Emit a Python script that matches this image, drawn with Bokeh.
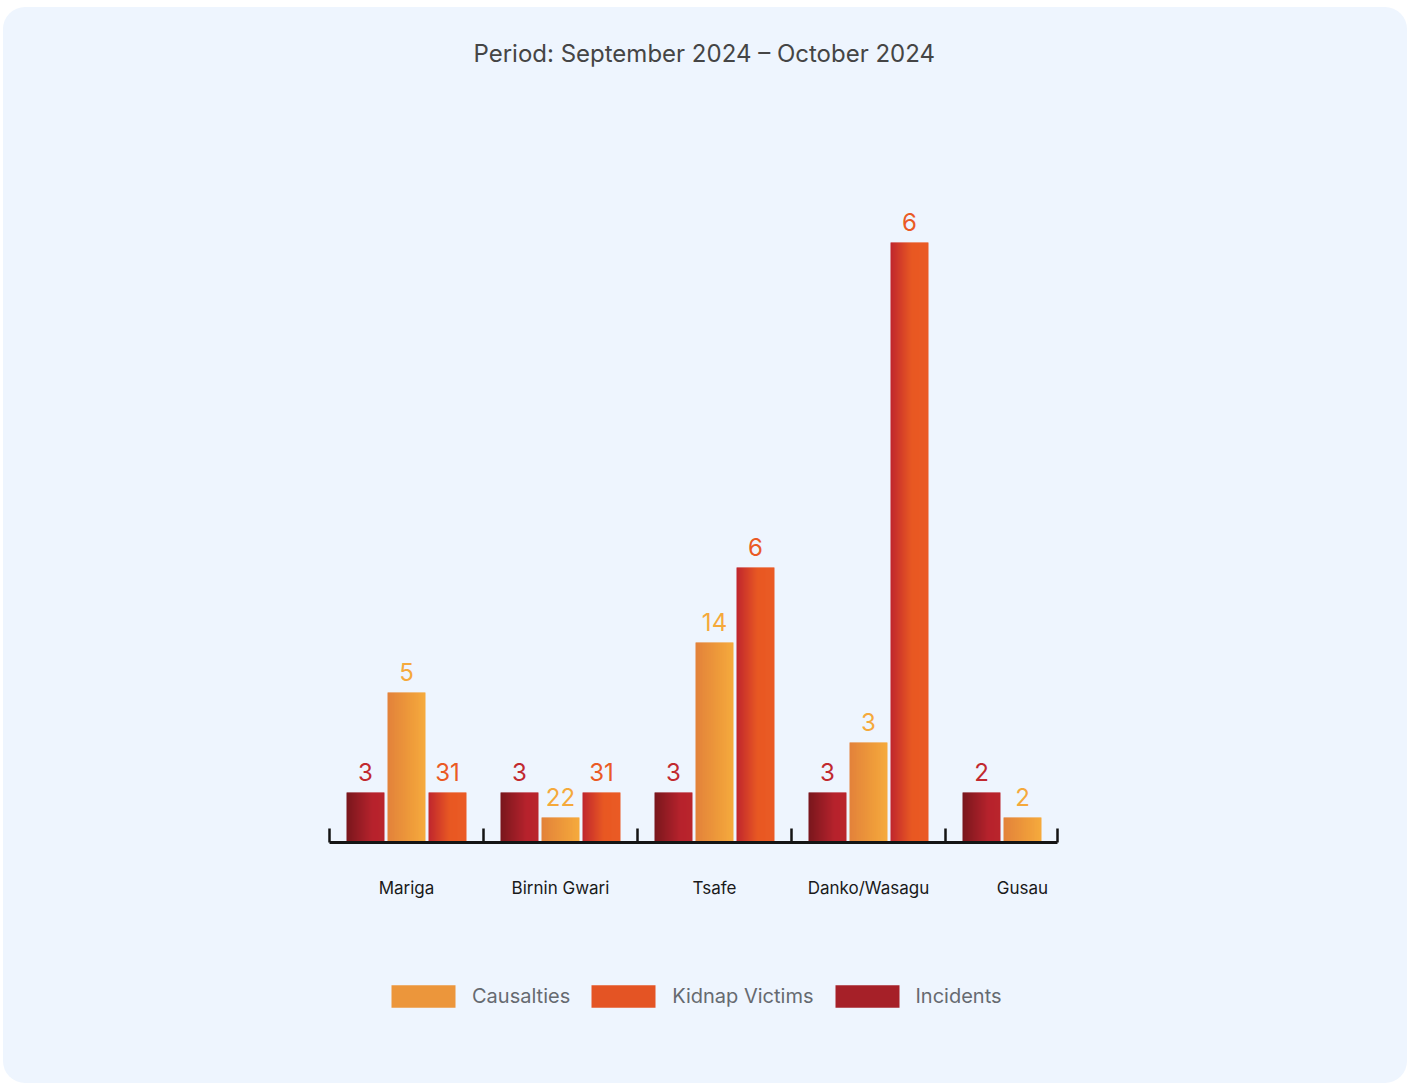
import numpy as np
from bokeh.plotting import figure
from bokeh.layouts import column
from bokeh.models import ColumnDataSource, Range1d, FixedTicker, Legend, LegendItem, Title
from bokeh.core.properties import value
from bokeh.embed import file_html
from bokeh.resources import INLINE

# ---------------- data ----------------
categories = ["Mariga", "Birnin Gwari", "Tsafe", "Danko/Wasagu", "Gusau"]

# bar heights as drawn (chart units)
incidents = [2, 2, 2, 2, 2]
causalties = [6, 1, 8, 4, 1]
kidnap_victims = [2, 2, 11, 24, 0]

# value labels as printed above the bars
incidents_labels = ["3", "3", "3", "3", "2"]
causalties_labels = ["5", "22", "14", "3", "2"]
kidnap_labels = ["31", "31", "6", "6", ""]

legend_order = ["Causalties", "Kidnap Victims", "Incidents"]

title_text = "Period: September 2024 \u2013 October 2024"

# ---------------- style ----------------
BG = "#EEF5FE"
FONT = "Inter"
BAR_W = 38 / 154
STEP = 41 / 154
N_STRIPS = 38
AXIS_END = -0.5 + (1057 - 329) / 154


def hex2rgb(h):
    h = h.lstrip("#")
    return np.array([int(h[i:i + 2], 16) for i in (0, 2, 4)], dtype=float)


def interp(stops, t):
    for (t0, c0), (t1, c1) in zip(stops[:-1], stops[1:]):
        if t <= t1:
            f = 0 if t1 == t0 else (t - t0) / (t1 - t0)
            c = hex2rgb(c0) * (1 - f) + hex2rgb(c1) * f
            return "#%02x%02x%02x" % tuple(int(round(v)) for v in c)
    return stops[-1][1]


series = [
    ("Incidents", incidents, incidents_labels, -STEP,
     [(0, "#7a171d"), (0.7, "#b7232d"), (1, "#b9242d")], "#c1292f"),
    ("Causalties", causalties, causalties_labels, 0.0,
     [(0, "#e3823a"), (1, "#f5aa3c")], "#f5a93b"),
    ("Kidnap Victims", kidnap_victims, kidnap_labels, STEP,
     [(0, "#c0272d"), (0.55, "#e85823"), (1, "#ea5b24")], "#ea5a25"),
]
series_by_name = {s[0]: s for s in series}

# ---------------- main chart ----------------
p = figure(frame_width=770, frame_height=742,
           x_range=Range1d(-0.5, 4.5), y_range=Range1d(0, 742 / 25),
           output_backend="svg", toolbar_location=None, y_axis_location=None,
           min_border_left=326, min_border_right=308,
           min_border_top=93, min_border_bottom=120,
           background_fill_alpha=0, border_fill_alpha=0,
           outline_line_color=None, margin=0)
p.xgrid.visible = False
p.ygrid.visible = False

p.title = Title(text=title_text, align="left", offset=144, vertical_align="top",
                standoff=62, text_font=FONT, text_font_size="24px",
                text_font_style="normal", text_color="#454545")

sw = BAR_W / N_STRIPS
ov = 0.5 / 154
for name, vals, labels, off, stops, lbl_color in series:
    left, right, top, color = [], [], [], []
    for i, h in enumerate(vals):
        x0 = i + off - BAR_W / 2
        for k in range(N_STRIPS):
            left.append(x0 + k * sw)
            right.append(x0 + (k + 1) * sw + (ov if k < N_STRIPS - 1 else 0))
            top.append(h)
            color.append(interp(stops, k / (N_STRIPS - 1)))
    src = ColumnDataSource(dict(left=left, right=right, top=top,
                                bottom=[0] * len(top), color=color))
    p.quad(left="left", right="right", top="top", bottom="bottom",
           fill_color="color", line_color=None, source=src)

    tsrc = ColumnDataSource(dict(x=[i + off for i in range(len(vals))],
                                 y=vals, text=labels))
    p.text(x="x", y="y", text="text", source=tsrc,
           text_align="center", text_baseline="alphabetic", y_offset=-21,
           text_font=value(FONT), text_font_size="24px", text_color=lbl_color)

xa = p.xaxis[0]
xa.ticker = FixedTicker(ticks=list(range(len(categories))),
                        minor_ticks=[i - 0.5 for i in range(len(categories))] + [AXIS_END])
xa.bounds = (-0.5, AXIS_END)
xa.major_label_overrides = {i: c for i, c in enumerate(categories)}
xa.axis_line_width = 3
xa.axis_line_color = "#141414"
xa.major_tick_line_color = None
xa.major_tick_in = 0
xa.major_tick_out = 0
xa.minor_tick_in = 14
xa.minor_tick_out = 0
xa.minor_tick_line_width = 2.5
xa.minor_tick_line_color = "#141414"
xa.major_label_standoff = 35
xa.major_label_text_font = FONT
xa.major_label_text_font_size = "17px"
xa.major_label_text_color = "#1a1a1a"

# ---------------- legend strip ----------------
pl = figure(width=1404, height=121, x_range=Range1d(0, 1), y_range=Range1d(0, 1),
            output_backend="svg", toolbar_location=None,
            x_axis_location=None, y_axis_location=None, min_border=0,
            background_fill_alpha=0, border_fill_alpha=0,
            outline_line_color=None, margin=0)
pl.xgrid.visible = False
pl.ygrid.visible = False

nan = float("nan")
items = []
for name in legend_order:
    stops = series_by_name[name][4]
    r = pl.quad(left=[nan], right=[nan], top=[nan], bottom=[nan],
                fill_color=interp(stops, 0.5), line_color=None)
    items.append(LegendItem(label=name, renderers=[r]))

legend = Legend(items=items, orientation="horizontal", location=(54, 73),
                glyph_width=80, glyph_height=28, label_standoff=9, spacing=13,
                padding=0, margin=0, background_fill_alpha=0, border_line_color=None,
                label_text_font=FONT, label_text_font_size="20px",
                label_text_color="#666a70")
pl.add_layout(legend, "center")

layout = column(p, pl, spacing=0, margin=(7, 9, 2, 3),
                styles={"border-radius": "22px", "overflow": "hidden",
                        "background-color": BG})

open("out.html", "w").write(file_html(layout, INLINE))
